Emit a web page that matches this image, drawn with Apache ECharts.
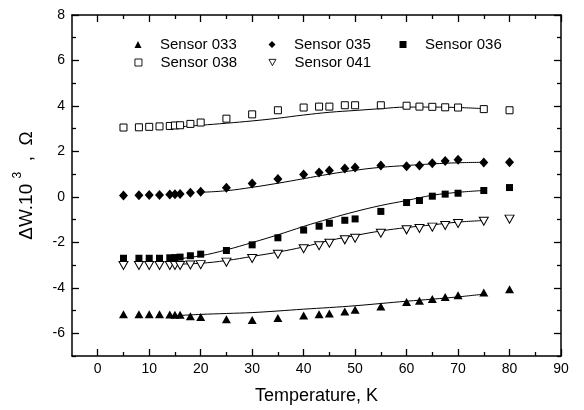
<!DOCTYPE html>
<html><head><meta charset="utf-8">
<script src="https://cdn.jsdelivr.net/npm/echarts@6/dist/echarts.min.js"></script>
<style>html,body{margin:0;padding:0;background:#fff}#c{width:584px;height:410px}</style>
</head><body><div id="c"></div>
<script>
const temps = [5,8,10,12,14,15,16,18,20,25,30,35,40,43,45,48,50,55,60,62.5,65,67.5,70,75,80];
const s033 = [-5.16,-5.16,-5.16,-5.16,-5.17,-5.18,-5.19,-5.25,-5.28,-5.38,-5.42,-5.33,-5.22,-5.16,-5.13,-5.04,-4.97,-4.82,-4.63,-4.57,-4.49,-4.41,-4.33,-4.21,-4.06];
const s035 = [0.06,0.07,0.08,0.08,0.1,0.12,0.13,0.18,0.22,0.4,0.59,0.79,0.98,1.07,1.16,1.25,1.29,1.38,1.35,1.38,1.48,1.58,1.63,1.51,1.52];
const s036 = [-2.7,-2.7,-2.7,-2.7,-2.68,-2.67,-2.65,-2.59,-2.52,-2.36,-2.11,-1.8,-1.46,-1.29,-1.16,-1.03,-0.97,-0.64,-0.25,-0.16,0.03,0.12,0.16,0.28,0.41];
const s038 = [3.05,3.06,3.08,3.1,3.12,3.14,3.15,3.21,3.27,3.44,3.63,3.81,3.93,3.97,3.97,4.03,4.03,4.03,4.01,3.97,3.96,3.94,3.93,3.86,3.81];
const s041 = [-3.02,-3.02,-3.02,-3.02,-3.02,-3.02,-3.02,-3.0,-2.98,-2.87,-2.71,-2.52,-2.28,-2.15,-2.04,-1.89,-1.82,-1.6,-1.45,-1.39,-1.33,-1.26,-1.17,-1.07,-0.98];

const fitT = [14,20,25,30,35,40,45,50,55,60,65,70,75];
const f033 = [-5.24,-5.17,-5.13,-5.09,-5.02,-4.94,-4.87,-4.79,-4.69,-4.59,-4.5,-4.4,-4.28];
const f035 = [null,0.2,0.27,0.42,0.6,0.8,1.0,1.17,1.3,1.38,1.45,1.5,1.52];
const f036 = [-2.77,-2.59,-2.33,-2.01,-1.67,-1.3,-0.96,-0.65,-0.38,-0.16,0.07,0.2,0.28];
const f038 = [3.05,3.15,3.24,3.34,3.46,3.6,3.72,3.8,3.88,3.95,3.95,3.93,3.88];
const f041 = [-2.97,-2.92,-2.8,-2.62,-2.43,-2.2,-1.92,-1.7,-1.5,-1.35,-1.23,-1.11,-1.04];

const xMajor = [0,10,20,30,40,50,60,70,80,90];
const xMinor = [5,15,25,35,45,55,65,75,85];
const yMajor = [-6,-4,-2,0,2,4,6,8];
const yMinor = [-7,-5,-3,-1,1,3,5,7];
const names = ['Sensor 033','Sensor 035','Sensor 036','Sensor 038','Sensor 041'];

const FONT = 'Liberation Sans, Arial, sans-serif';
const pair = (xs, ys) => xs.map((x, i) => [x, ys[i]]);

const baseX = {type:'value', min:-5, max:90, splitLine:{show:false}};
const baseY = {type:'value', min:-7, max:8, splitLine:{show:false}};

function xAxisDef(pos, ticks, len, labels, lineShow) {
  return Object.assign({}, baseX, {
    position: pos,
    axisLine: {show: lineShow, onZero:false, lineStyle:{color:'#000', width:1.5}},
    axisTick: {show:true, inside:true, length:len, customValues:ticks, lineStyle:{color:'#000', width:1.3}},
    axisLabel: labels ? {show:true, customValues:ticks, margin:6, color:'#000', fontSize:14, fontFamily:FONT} : {show:false}
  });
}
function yAxisDef(pos, ticks, len, labels, lineShow) {
  return Object.assign({}, baseY, {
    position: pos,
    axisLine: {show: lineShow, onZero:false, lineStyle:{color:'#000', width:1.5}},
    axisTick: {show:true, inside:true, length:len, customValues:ticks, lineStyle:{color:'#000', width:1.3}},
    axisLabel: labels ? {show:true, customValues:ticks, margin:7, color:'#000', fontSize:14, fontFamily:FONT} : {show:false}
  });
}

const xAxes = [
  Object.assign(xAxisDef('bottom', xMajor, 7, true, true), {name:'Temperature, K', nameLocation:'middle', nameGap:31, nameTextStyle:{fontSize:18, color:'#000', fontFamily:FONT}}),
  xAxisDef('bottom', xMinor, 4, false, false),
  xAxisDef('top', xMajor, 7, false, true),
  xAxisDef('top', xMinor, 4, false, false)
];
const yAxes = [
  Object.assign(yAxisDef('left', yMajor, 7, true, true), {
    name:'{b|ΔW.10 }{s|3}{b|  ,  Ω}', nameLocation:'middle', nameGap:36, nameRotate:90,
    nameTextStyle:{color:'#000', fontFamily:FONT, rich:{
      b:{fontSize:19, fontFamily:FONT, color:'#000', lineHeight:24, verticalAlign:'bottom'},
      s:{fontSize:12, fontFamily:FONT, color:'#000', lineHeight:24, verticalAlign:'top'}
    }}
  }),
  yAxisDef('left', yMinor, 4, false, false),
  yAxisDef('right', yMajor, 7, false, true),
  yAxisDef('right', yMinor, 4, false, false)
];

const symbols = {
  'Sensor 033': {symbol:'triangle', size:[9,8], fill:'#000'},
  'Sensor 035': {symbol:'diamond', size:[9,10], fill:'#000'},
  'Sensor 036': {symbol:'rect', size:[7,7], fill:'#000'},
  'Sensor 038': {symbol:'rect', size:[7,7], fill:'#fff'},
  'Sensor 041': {symbol:'path://M0,0L10,0L5,9Z', size:[9,8], fill:'#fff'}
};
const values = {'Sensor 033':s033,'Sensor 035':s035,'Sensor 036':s036,'Sensor 038':s038,'Sensor 041':s041};
const fits = [f033,f035,f036,f038,f041];

const series = [];
fits.forEach((f, i) => {
  series.push({type:'line', name:'fit'+i, data:pair(fitT, f), smooth:0.4, symbol:'none', silent:true,
    lineStyle:{color:'#000', width:1}, z:2, connectNulls:false});
});
names.forEach(n => {
  const s = symbols[n];
  series.push({type:'scatter', name:n, data:pair(temps, values[n]), symbol:s.symbol, symbolSize:s.size,
    itemStyle:{color:s.fill, borderColor:'#000', borderWidth: s.fill === '#fff' ? 1 : 0, opacity:1}, z:3});
});

const legendPos = [
  {n:'Sensor 033', left:134.5, top:37},
  {n:'Sensor 035', left:268.5, top:37},
  {n:'Sensor 036', left:399.5, top:37},
  {n:'Sensor 038', left:134.5, top:55},
  {n:'Sensor 041', left:268.5, top:55}
];
const legends = legendPos.map(p => ({
  data:[p.n], left:p.left, top:p.top, padding:0, itemWidth:7, itemHeight:7, itemGap:0,
  selectedMode:false,
  itemStyle:{borderWidth: (p.n === 'Sensor 038' || p.n === 'Sensor 041') ? 0.9 : 0},
  textStyle:{fontSize:15, color:'#000', fontFamily:FONT, padding:[0,0,0,13.5]}
}));

const chart = echarts.init(document.getElementById('c'), null, {renderer:'canvas'});
chart.setOption({
  animation:false,
  backgroundColor:'#fff',
  grid:{left:72, right:23, top:15, bottom:54, containLabel:false},
  legend: legends,
  xAxis: xAxes,
  yAxis: yAxes,
  series: series
});
</script></body></html>
